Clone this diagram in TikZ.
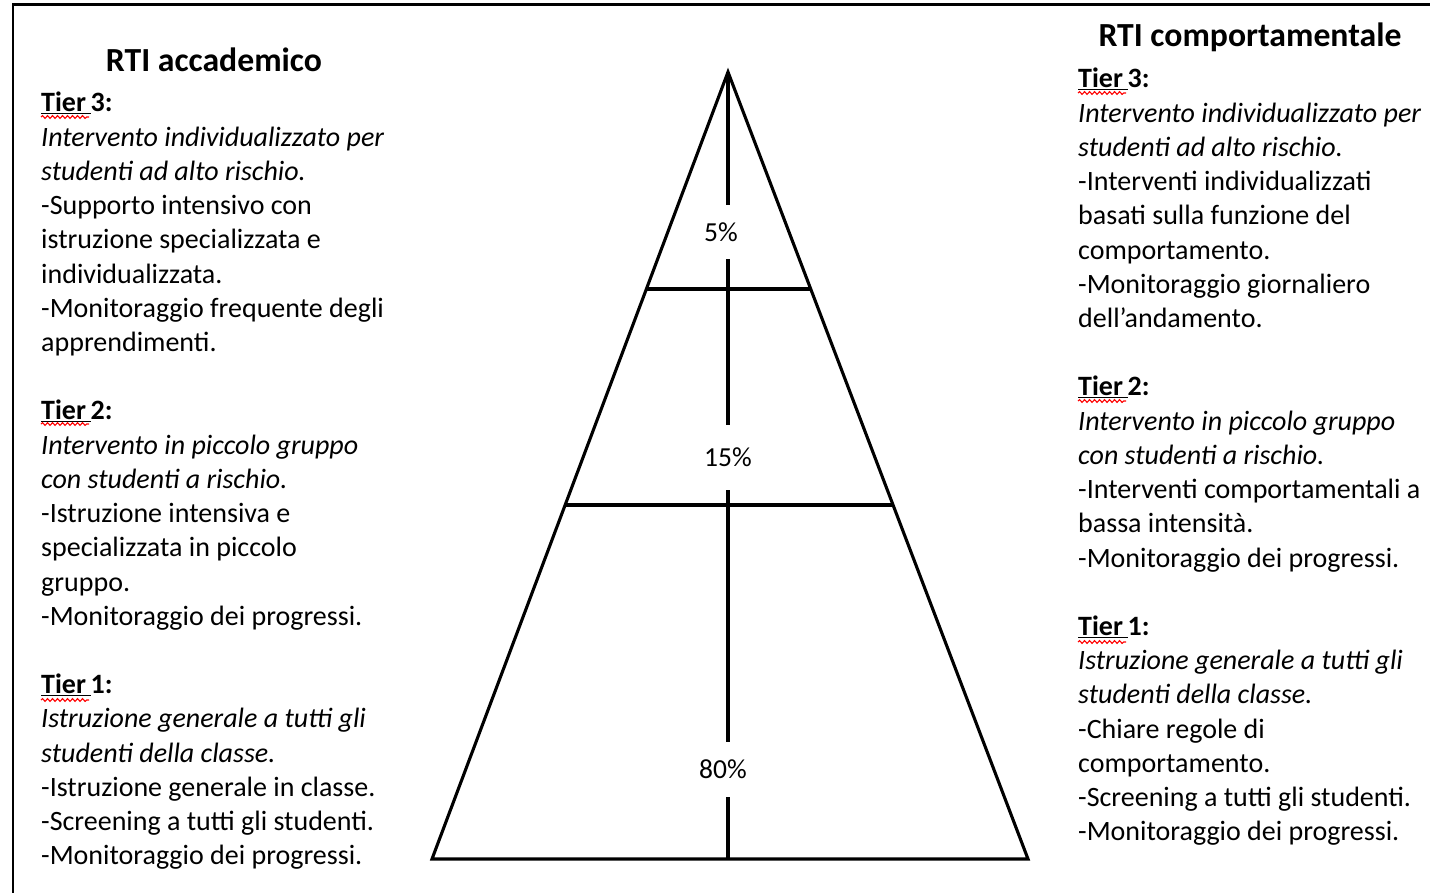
\documentclass[tikz,border=0pt]{standalone}
\usepackage{fontspec}
\setmainfont{Carlito}
\usetikzlibrary{calc,decorations.pathmorphing}
\tikzset{every node/.append style={align=left}}

\newcommand{\bodysize}{\fontsize{28}{34.23}\selectfont}
\newcommand{\tiergap}{\\[34.23pt]}
\newcommand{\tierword}{\underline{Tier\,}}

\begin{document}
\begin{tikzpicture}[x=1pt, y=-1pt,
    pyr/.style={line width=3.1pt},
    colbox/.style={anchor=north west, inner sep=0pt, font=\bodysize},
    pct/.style={fill=white, inner sep=0pt, minimum width=40pt, font=\fontsize{27.5}{30}\selectfont},
    heading/.style={font=\fontsize{33.7}{38}\selectfont\bfseries},
    squig/.style={red, line width=1.1pt, decorate,
        decoration={snake, amplitude=1.4pt, segment length=5pt}}]
    \useasboundingbox (0,0) rectangle (1430,893);

    % outer frame
    \draw[line width=2.6pt] (1430,4.5) -- (13,4.5) -- (13,893);

    % headings
    \node[heading] (titleL) at (214,60) {RTI accademico};
    \node[heading] (titleR) at (1250,37) {RTI comportamentale};

    % left column
    \node[colbox] (colL) at (41,92) {%
        \textbf{\tierword 3:}\\
        \textit{Intervento individualizzato per}\\
        \textit{studenti ad alto rischio.}\\
        -Supporto intensivo con\\
        istruzione specializzata e\\
        individualizzata.\\
        -Monitoraggio frequente degli\\
        apprendimenti.\tiergap
        \textbf{\tierword 2:}\\
        \textit{Intervento in piccolo gruppo}\\
        \textit{con studenti a rischio.}\\
        -Istruzione intensiva e\\
        specializzata in piccolo\\
        gruppo.\\
        -Monitoraggio dei progressi.\tiergap
        \textbf{\tierword 1:}\\
        \textit{Istruzione generale a tutti gli}\\
        \textit{studenti della classe.}\\
        -Istruzione generale in classe.\\
        -Screening a tutti gli studenti.\\
        -Monitoraggio dei progressi.};

    % right column
    \node[colbox] (colR) at (1078,68) {%
        \textbf{\tierword 3:}\\
        \textit{Intervento individualizzato per}\\
        \textit{studenti ad alto rischio.}\\
        -Interventi individualizzati\\
        basati sulla funzione del\\
        comportamento.\\
        -Monitoraggio giornaliero\\
        dell’andamento.\tiergap
        \textbf{\tierword 2:}\\
        \textit{Intervento in piccolo gruppo}\\
        \textit{con studenti a rischio.}\\
        -Interventi comportamentali a\\
        bassa intensità.\\
        -Monitoraggio dei progressi.\tiergap
        \textbf{\tierword 1:}\\
        \textit{Istruzione generale a tutti gli}\\
        \textit{studenti della classe.}\\
        -Chiare regole di\\
        comportamento.\\
        -Screening a tutti gli studenti.\\
        -Monitoraggio dei progressi.};

    % spell-check marks under "Tier"
    \foreach \x/\y in {41/117, 41/424, 41/700, 1078/93, 1078/401, 1078/642}
        \draw[squig] (\x,\y) -- ++(48,0);

    % pyramid
    \coordinate (apex) at (728,72);
    \coordinate (baseL) at (432,859);
    \coordinate (baseR) at (1028,859);
    \coordinate (baseM) at (728,859);
    \draw[pyr, line join=miter] (apex) -- (baseL) -- (baseR) -- cycle;
    \draw[pyr] ($(apex)!0.2757!(baseL)$) -- ($(apex)!0.2757!(baseR)$);
    \draw[pyr] ($(apex)!0.5502!(baseL)$) -- ($(apex)!0.5502!(baseR)$);

    % percentages on the axis
    \node[pct, minimum height=54pt] (p5) at (721,232) {5\%};
    \node[pct, minimum height=65pt] (p15) at (728,457.5) {15\%};
    \node[pct, minimum height=55pt] (p80) at (723,769.5) {80\%};

    \draw[pyr] (apex) -- (apex |- p5.north);
    \draw[pyr] (apex |- p5.south) -- (apex |- p15.north);
    \draw[pyr] (apex |- p15.south) -- (apex |- p80.north);
    \draw[pyr] (apex |- p80.south) -- (baseM);
\end{tikzpicture}
\end{document}
